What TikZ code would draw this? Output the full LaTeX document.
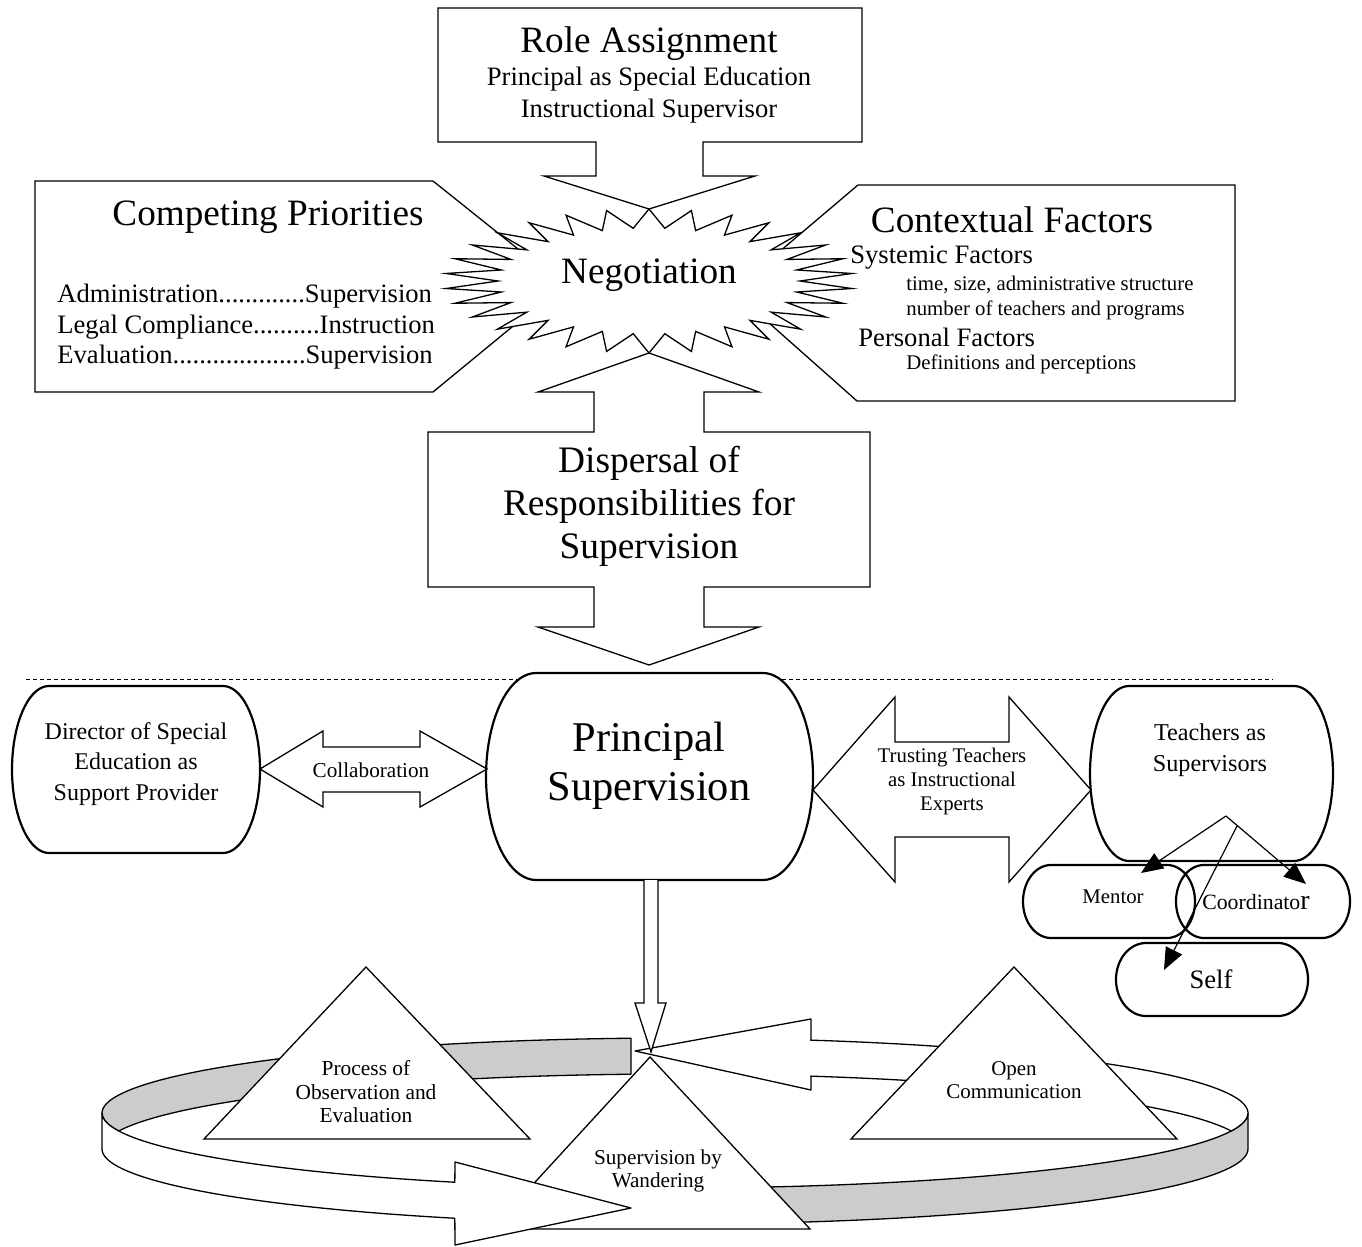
\documentclass[tikz,border=0pt]{standalone}
\usepackage{fontspec}
\setmainfont{Liberation Serif}
\usetikzlibrary{arrows.meta}
\definecolor{bandgray}{RGB}{204,204,204}
\newcommand\fsz[2]{\fontsize{#1}{#2}\selectfont}
% terminator box: style, left, top, right, bottom, end radius
\newcommand\termbox[6]{%
  \draw[#1] ({#2+#6},#3) -- ({#4-#6},#3)
    -- plot[variable=\t, domain=-90:90, samples=41] ({#4-#6+#6*cos(\t)},{(#3+#5)/2+(#5-#3)/2*sin(\t)})
    -- ({#2+#6},#5)
    -- plot[variable=\t, domain=90:270, samples=41] ({#2+#6+#6*cos(\t)},{(#3+#5)/2+(#5-#3)/2*sin(\t)})
    -- cycle;}
\begin{document}
\begin{tikzpicture}[x=0.5pt, y=-0.5pt,
  every node/.style={inner sep=0pt, yshift=-1.5pt},
  thin line/.style={draw=black, line width=0.65pt, line join=miter},
  callout/.style={thin line, fill=white},
  termline/.style={draw=black, line width=1.1pt},
  ring/.style={draw=black, line width=0.65pt, line join=round},
  tri/.style={thin line, fill=white},
  subarrow/.style={draw=black, line width=0.6pt, -{Triangle[length=11pt,width=9pt]}}]
\useasboundingbox (0,0) rectangle (1362,1247);

% separator
\draw[line width=0.5pt, dash pattern=on 2.2pt off 1.3pt] (26,679) -- (1273,679);

% upper callouts
\draw[callout] (438,8) -- (862,8) -- (862,142) -- (703,142) -- (703,176) -- (755,176)
  -- (649,209) -- (544,176) -- (596,176) -- (596,142) -- (438,142) -- cycle;
\draw[callout] (35,181) -- (433,181) -- (563,285) -- (433,392) -- (35,392) -- cycle;
\draw[callout] (858,185) -- (1235,185) -- (1235,401) -- (857,401) -- (733,291) -- cycle;
\draw[callout] (428,432) -- (594,432) -- (594,392) -- (538,392) -- (649,353) -- (759,392)
  -- (704,392) -- (704,432) -- (870,432) -- (870,587) -- (704,587) -- (704,627)
  -- (759,627) -- (649,665) -- (538,627) -- (594,627) -- (594,587) -- (428,587) -- cycle;

% negotiation burst
\draw[callout] (649,209) \foreach \k in {0,...,29}{
    -- ({649+151*cos(96+12*\k)},{281-53*sin(96+12*\k)})
    -- ({649+204*cos(102+12*\k)},{281-72*sin(102+12*\k)}) } -- cycle;

% terminator boxes
\termbox{termline, fill=white}{12}{686}{260}{853}{37}
\termbox{termline, fill=white}{486}{673}{813}{880}{50}
\termbox{termline, fill=white}{1090}{686}{1333}{861}{39}
\termbox{termline}{1023}{865}{1195}{938}{28}
\termbox{termline}{1176}{865}{1350}{938}{28}
\termbox{termline}{1116}{943}{1308}{1016}{30}

% double block arrows
\draw[callout] (260,769) -- (323,731) -- (323,747) -- (420,747) -- (420,731) -- (487,769)
  -- (420,807) -- (420,792) -- (323,792) -- (323,807) -- cycle;
\draw[callout] (813,790) -- (895,697) -- (895,742) -- (1009,742) -- (1009,697) -- (1091,790)
  -- (1009,882) -- (1009,837) -- (895,837) -- (895,882) -- cycle;

% teacher roles
\coordinate (vtop) at (1226,813);
\coordinate (mentorTip) at (1141,870);
\coordinate (coordTip) at (1306,881);
\coordinate (selfStart) at (1237,823);
\coordinate (selfTip) at (1164,967);
\draw[subarrow] (vtop) -- (mentorTip);
\draw[subarrow] (vtop) -- (coordTip);
\draw[subarrow] (selfStart) -- (selfTip);

% cycle band: back faces and right front face
\draw[ring, fill=bandgray] (631,1039)
  -- plot[variable=\t, domain=265.6:180, samples=50] ({675+573*cos(\t)},{1113+75*sin(\t)})
  -- plot[variable=\t, domain=180:166.1, samples=6] ({675+573*cos(\t)},{1113+75*sin(\t)})
  -- plot[variable=\t, domain=193.9:265.6, samples=50] ({675+573*cos(\t)},{1149+75*sin(\t)})
  -- cycle;
\draw[ring, fill=bandgray]
  plot[variable=\t, domain=0:89.5, samples=50] ({675+573*cos(\t)},{1113+75*sin(\t)})
  -- plot[variable=\t, domain=89.5:0, samples=50] ({675+573*cos(\t)},{1149+75*sin(\t)})
  -- cycle;
\draw[ring, fill=white] (811,1076) -- (811,1090) -- (635,1051) -- (811,1019) -- (811,1040)
  -- plot[variable=\t, domain=283.7:374, samples=50] ({675+573*cos(\t)},{1113+75*sin(\t)})
  -- plot[variable=\t, domain=346:283.7, samples=50] ({675+573*cos(\t)},{1149+75*sin(\t)})
  -- cycle;

% triangles
\draw[tri] (366,967) -- (530,1139) -- (204,1139) -- cycle;
\draw[tri] (1014,967) -- (1177,1139) -- (851,1139) -- cycle;
\draw[tri] (650,1057) -- (810,1229) -- (492,1229) -- cycle;

% cycle band: left front face with head
\draw[ring, fill=white]
  plot[variable=\t, domain=180:112.6, samples=50] ({675+573*cos(\t)},{1113+75*sin(\t)})
  -- (455,1162) -- (631,1208) -- (455,1245)
  -- plot[variable=\t, domain=112.6:180, samples=50] ({675+573*cos(\t)},{1149+75*sin(\t)})
  -- cycle;

% arrow from principal supervision down to the cycle
\draw[callout] (644,880) -- (644,1003) -- (635,1003) -- (651,1052) -- (666,1003) -- (658,1003) -- (658,880);

% texts
\node[font=\fsz{18.6}{22}] (roleT) at (649,41) {Role Assignment};
\node[align=center, font=\fsz{13.3}{16}] (roleS) at (649,92) {Principal as Special Education\\Instructional Supervisor};
\node[font=\fsz{18.6}{22}] (compT) at (268,214) {Competing Priorities};
\node[anchor=west, align=left, font=\fsz{13.3}{15.25}] (compL) at (57,324) {Administration.............Supervision\\Legal Compliance..........Instruction\\Evaluation....................Supervision};
\node[font=\fsz{18.6}{22}] (nego) at (649,272) {Negotiation};
\node[font=\fsz{18.6}{22}] (ctxT) at (1012,217) {Contextual Factors};
\node[anchor=west, font=\fsz{13.3}{16}] (sysF) at (850,255) {Systemic Factors};
\node[anchor=west, align=left, font=\fsz{10.4}{12.5}] (sysL) at (906,295) {time, size, administrative structure\\number of teachers and programs};
\node[anchor=west, font=\fsz{13.3}{16}] (perF) at (858,334) {Personal Factors};
\node[anchor=west, font=\fsz{10.4}{12.5}] (perL) at (906,361) {Definitions and perceptions};
\node[align=center, font=\fsz{18.7}{21.5}] (disp) at (649,503) {Dispersal of\\Responsibilities for\\Supervision};
\node[align=center, font=\fsz{12}{15.25}] (dir) at (136,761) {Director of Special\\Education as\\Support Provider};
\node[font=\fsz{10.6}{13}] (collab) at (371,767) {Collaboration};
\node[align=center, font=\fsz{21.2}{24.5}] (prin) at (649,763) {Principal\\Supervision};
\node[align=center, font=\fsz{10.4}{12}] (trust) at (952,778) {Trusting Teachers\\as Instructional\\Experts};
\node[align=center, font=\fsz{12.1}{15.5}] (teach) at (1210,747) {Teachers as\\Supervisors};
\node[font=\fsz{10.4}{12}] (mentor) at (1113,894) {Mentor};
\node[font=\fsz{10.9}{13}] (coord) at (1256,899) {Coordinato{\fsz{14}{14}r}};
\node[font=\fsz{13.3}{16}] (self) at (1211,976) {Self};
\node[align=center, font=\fsz{10.7}{11.75}] (obs) at (366,1089) {Process of\\Observation and\\Evaluation};
\node[align=center, font=\fsz{10.5}{11.75}] (open) at (1014,1077) {Open\\Communication};
\node[align=center, font=\fsz{10.6}{11.75}] (wand) at (658,1168) {Supervision by\\Wandering};
\end{tikzpicture}
\end{document}
